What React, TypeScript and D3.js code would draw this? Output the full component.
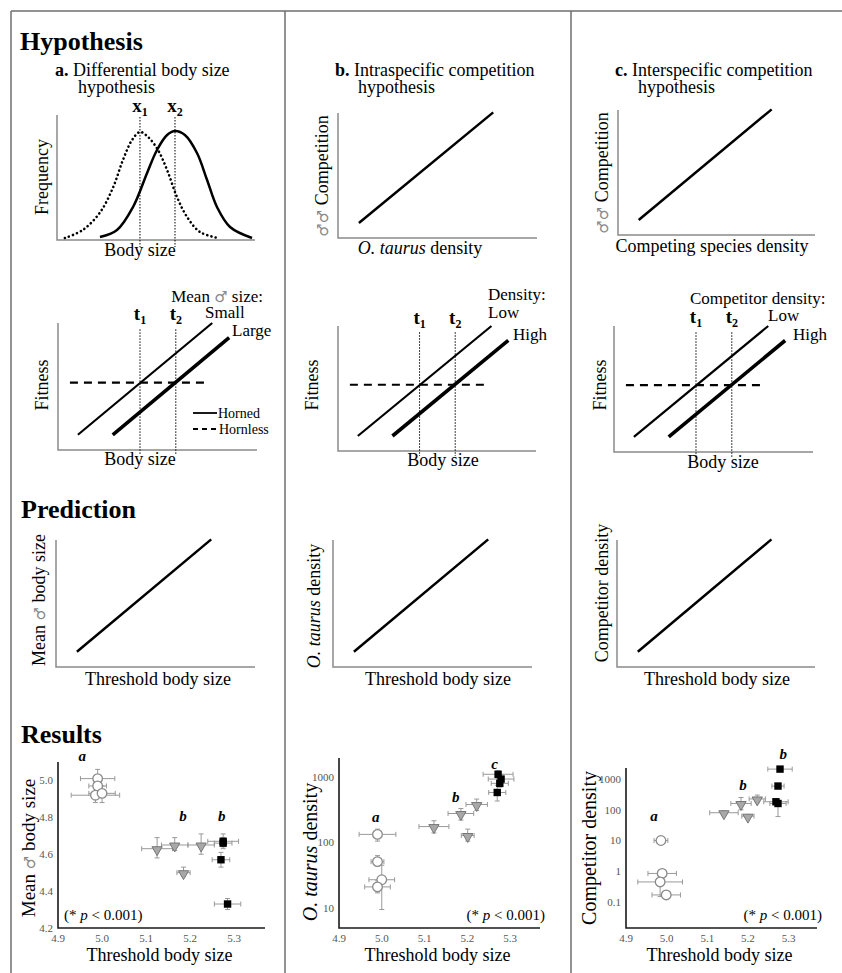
import * as d3 from "d3";
import React from "react";

const FONT = "'Liberation Serif', 'Times New Roman', serif";

// hypothesis sketches live on a 0-10 x 0-10 grid
const freqHornless: [number, number][] = [
  [0.4, 0.16], [1.3, 0.8], [2.17, 2.2], [2.83, 4.2], [3.33, 6.4], [3.79, 8.0],
  [4.19, 8.64], [4.6, 8.24], [5.1, 7.2], [5.56, 5.6], [6.06, 3.44], [6.57, 1.84],
  [7.22, 0.64], [8.13, 0.16],
];
const freqHorned: [number, number][] = [
  [2.17, 0.24], [3.03, 0.8], [3.84, 2.64], [4.55, 5.36], [5.05, 7.2], [5.56, 8.4],
  [5.96, 8.72], [6.46, 8.4], [7.07, 6.96], [7.58, 4.8], [8.08, 2.64], [8.74, 1.04],
  [9.85, 0.16],
];
const peakX = [4.19, 5.96];
const riseLine: [number, number][] = [[1.05, 1.2], [7.8, 10.05]];
const fitSmall: [number, number][] = [[1.0, 1.2], [7.75, 10.0]];
const fitLarge: [number, number][] = [[2.75, 1.2], [8.6, 8.85]];
const hornlessFit: [number, number][] = [[0.6, 5.3], [7.45, 5.3]];
const thresholds = [4.12, 5.92];

// results: [threshold, value, x error, value low, value high]
type Pop = [number, number, number, number, number];
const xTicks = [4.9, 5.0, 5.1, 5.2, 5.3];
const sizeTicks = [4.2, 4.4, 4.6, 4.8, 5.0];
const taurusTicks = [10, 100, 1000];
const compTicks = [0.1, 1, 10, 100, 1000];

const sizeOpen: Pop[] = [
  [4.99, 5.01, 0.039, 4.96, 5.06], [4.99, 4.97, 0.02, 4.95, 4.99],
  [4.985, 4.92, 0.055, 4.88, 4.96], [5.0, 4.93, 0.03, 4.88, 4.97],
];
const sizeGrey: Pop[] = [
  [5.125, 4.63, 0.035, 4.58, 4.69], [5.165, 4.65, 0.03, 4.62, 4.69],
  [5.185, 4.5, 0.015, 4.48, 4.53], [5.225, 4.65, 0.03, 4.6, 4.71],
];
const sizeBlack: Pop[] = [
  [5.275, 4.67, 0.035, 4.64, 4.71], [5.275, 4.66, 0.02, 4.63, 4.69],
  [5.27, 4.57, 0.02, 4.53, 4.61], [5.285, 4.33, 0.03, 4.3, 4.36],
];
const taurusOpen: Pop[] = [
  [4.99, 133, 0.043, 105, 160], [4.99, 51, 0.015, 44, 63],
  [5.0, 27, 0.03, 9.5, 45], [4.99, 21, 0.03, 17, 26],
];
const taurusGrey: Pop[] = [
  [5.122, 175, 0.035, 140, 215], [5.185, 277, 0.03, 220, 330],
  [5.201, 128, 0.015, 105, 160], [5.222, 380, 0.025, 310, 460],
];
const taurusBlack: Pop[] = [
  [5.27, 580, 0.02, 430, 750], [5.272, 1100, 0.035, 950, 1250],
  [5.279, 930, 0.03, 800, 1100], [5.276, 800, 0.02, 700, 950],
];
const compOpen: Pop[] = [
  [4.986, 10, 0.017, 8.3, 12], [4.989, 0.85, 0.035, 0.65, 1.1],
  [4.984, 0.45, 0.055, 0.15, 0.9], [4.999, 0.17, 0.035, 0.13, 0.23],
];
const compGrey: Pop[] = [
  [5.141, 80, 0.035, 70, 92], [5.183, 160, 0.025, 100, 250],
  [5.2, 62, 0.015, 55, 70], [5.223, 225, 0.02, 170, 300],
];
const compBlack: Pop[] = [
  [5.279, 2100, 0.03, 1800, 2400], [5.274, 590, 0.015, 520, 660],
  [5.269, 182, 0.03, 150, 220], [5.274, 160, 0.02, 60, 200],
];

type Scale = { x: d3.ScaleLinear<number, number>; y: d3.ScaleLinear<number, number> };
const box = (l: number, t: number, r: number, b: number): Scale => ({
  x: d3.scaleLinear().domain([0, 10]).range([l, r]),
  y: d3.scaleLinear().domain([0, 10]).range([b, t]),
});

const lineOf = (s: Scale, curve: d3.CurveFactory = d3.curveLinear) =>
  d3.line<[number, number]>().x((d) => s.x(d[0])).y((d) => s.y(d[1])).curve(curve);

const Axes = ({ s, color = "#8a8a8a" }: { s: Scale; color?: string }) => {
  const [l, r] = s.x.range();
  const [b, t] = s.y.range();
  return <path d={`M${l},${t}V${b}H${r}`} fill="none" stroke={color} strokeWidth={1.5} />;
};

const RotText = ({ x, y, size = 18, children }: any) => (
  <text transform={`translate(${x},${y}) rotate(-90)`} textAnchor="middle" fontSize={size}>
    {children}
  </text>
);

const Male = ({ n = 1 }: { n?: number }) => (
  <tspan fill="#888" fontFamily="'DejaVu Sans', sans-serif" fontSize={15}>
    {"♂".repeat(n)}
  </tspan>
);

const Sub = ({ base, sub, x, y }: any) => (
  <text x={x} y={y} textAnchor="middle" fontWeight="bold" fontSize={19}>
    {base}
    <tspan fontSize={12} dy={4}>{sub}</tspan>
  </text>
);

const Title = ({ x, y, tag, text }: any) => (
  <g fontSize={18}>
    <text x={x} y={y}>
      <tspan fontWeight="bold">{tag}</tspan> {text}
    </text>
    <text x={x + 23} y={y + 17}>hypothesis</text>
  </g>
);

const RiseSketch = ({ s }: { s: Scale }) => (
  <g>
    <Axes s={s} />
    <path d={lineOf(s)(riseLine)!} stroke="#000" strokeWidth={2.5} fill="none" />
  </g>
);

const FitnessSketch = ({ s }: { s: Scale }) => {
  const [b] = s.y.range();
  return (
    <g>
      <Axes s={s} />
      {thresholds.map((t, i) => (
        <g key={i}>
          <line x1={s.x(t)} x2={s.x(t)} y1={s.y(9.5)} y2={b + 5} stroke="#000" strokeWidth={1} strokeDasharray="1.5,1.5" />
          <Sub base="t" sub={i + 1} x={s.x(t)} y={s.y(10.2)} />
        </g>
      ))}
      <path d={lineOf(s)(hornlessFit)!} stroke="#000" strokeWidth={2.2} strokeDasharray="8,6" fill="none" />
      <path d={lineOf(s)(fitSmall)!} stroke="#000" strokeWidth={2.2} fill="none" />
      <path d={lineOf(s)(fitLarge)!} stroke="#000" strokeWidth={3.6} fill="none" />
    </g>
  );
};

const tri = d3.symbol().type(d3.symbolTriangle).size(46)()!;

const Markers = ({ data, x, y, kind }: { data: Pop[]; x: any; y: any; kind: string }) => (
  <g>
    {data.map((d, i) => {
      const cx = x(d[0]);
      const cy = y(d[1]);
      const x0 = x(d[0] - d[2]);
      const x1 = x(d[0] + d[2]);
      const y0 = y(d[3]);
      const y1 = y(d[4]);
      return (
        <g key={"e" + i} stroke="#999" strokeWidth={1} fill="none">
          <path d={`M${x0},${cy}H${x1}M${x0},${cy - 2.5}V${cy + 2.5}M${x1},${cy - 2.5}V${cy + 2.5}`} />
          <path d={`M${cx},${y0}V${y1}M${cx - 2.5},${y0}H${cx + 2.5}M${cx - 2.5},${y1}H${cx + 2.5}`} />
        </g>
      );
    })}
    {data.map((d, i) => {
      const cx = x(d[0]);
      const cy = y(d[1]);
      if (kind === "open")
        return <circle key={i} cx={cx} cy={cy} r={4.8} fill="#fff" stroke="#8a8a8a" strokeWidth={1.3} />;
      if (kind === "grey")
        return (
          <path key={i} d={tri} transform={`translate(${cx},${cy + 1}) rotate(180)`} fill="#a8a8a8" stroke="#777" strokeWidth={1} />
        );
      return <rect key={i} x={cx - 3.7} y={cy - 3.7} width={7.4} height={7.4} fill="#000" />;
    })}
  </g>
);

const ResultPanel = ({ l, r, y, yTicks, fmt, sets, letters, pRight, pX, ylabel, ylabelX, ylabelY, ylabelSize }: any) => {
  const x = d3.scaleLinear().domain([4.9, 5.37]).range([l, r]);
  const [b, t] = y.range();
  return (
    <g>
      <path d={`M${l},${t}V${b}H${r}`} fill="none" stroke="#1a1a1a" strokeWidth={1.6} />
      <g fontSize={11} fill="#555">
        {xTicks.map((v) => (
          <text key={v} x={x(v)} y={b + 14} textAnchor="middle">{v.toFixed(1)}</text>
        ))}
        {yTicks.map((v: number) => (
          <text key={v} x={l - 5} y={y(v)} dy="0.35em" textAnchor="end">{fmt(v)}</text>
        ))}
      </g>
      <Markers data={sets[0]} x={x} y={y} kind="open" />
      <Markers data={sets[1]} x={x} y={y} kind="grey" />
      <Markers data={sets[2]} x={x} y={y} kind="black" />
      {letters.map((d: any, i: number) => (
        <text key={i} x={x(d[1])} y={y(d[2])} textAnchor="middle" fontSize={15} fontWeight="bold" fontStyle="italic">
          {d[0]}
        </text>
      ))}
      <text x={pX} y={b - 8} textAnchor={pRight ? "end" : "start"} fontSize={15}>
        (* <tspan fontStyle="italic">p</tspan> {"< 0.001)"}
      </text>
      <RotText x={ylabelX} y={ylabelY} size={ylabelSize}>{ylabel}</RotText>
      <text x={(l + r) / 2 - 2} y={961} textAnchor="middle" fontSize={18}>Threshold body size</text>
    </g>
  );
};

const App = () => {
  const freq = box(57, 115, 255, 240);
  const compB = box(338, 113, 537, 238);
  const compC = box(618, 110, 815, 235);
  const fitA = box(58, 323, 257, 450);
  const fitB = box(338, 326, 536, 451);
  const fitC = box(614, 326, 813, 452);
  const predA = box(56, 540, 255, 667);
  const predB = box(333, 540, 532, 667);
  const predC = box(617, 540, 815, 667);

  const sizeY = d3.scaleLinear().domain([4.2, 5.1]).range([928, 762]);
  const taurusY = d3.scaleLog().domain([4.95, 1950]).range([928, 758]);
  const compY = d3.scaleLog().domain([0.0143, 2280]).range([928, 768]);

  return (
    <svg
      width={842}
      height={973}
      style={{ position: "absolute", left: 0, top: 0, background: "#fff" }}
      fontFamily={FONT}
    >
      {/* frame */}
      <g stroke="#6e6e6e" strokeWidth={1.5}>
        <line x1={11} x2={842} y1={11} y2={11} />
        <line x1={11} x2={11} y1={11} y2={973} />
        <line x1={285} x2={285} y1={11} y2={973} />
        <line x1={571} x2={571} y1={11} y2={973} />
      </g>

      <text x={20} y={50} fontSize={26} fontWeight="bold">Hypothesis</text>
      <text x={21} y={518} fontSize={26} fontWeight="bold">Prediction</text>
      <text x={21} y={743} fontSize={26} fontWeight="bold">Results</text>

      {/* row 1 */}
      <Title x={55} y={76} tag="a." text="Differential body size" />
      <Title x={335} y={76} tag="b." text="Intraspecific competition" />
      <Title x={615} y={76} tag="c." text="Interspecific competition" />

      <Axes s={freq} />
      {peakX.map((p, i) => (
        <g key={i}>
          <line x1={freq.x(p)} x2={freq.x(p)} y1={117} y2={247} stroke="#000" strokeWidth={1} strokeDasharray="1.5,1.5" />
          <Sub base="x" sub={i + 1} x={freq.x(p)} y={112} />
        </g>
      ))}
      <path d={lineOf(freq, d3.curveCatmullRom)(freqHornless)!} fill="none" stroke="#000" strokeWidth={2.6} strokeDasharray="0.1,4.2" strokeLinecap="round" />
      <path d={lineOf(freq, d3.curveCatmullRom)(freqHorned)!} fill="none" stroke="#000" strokeWidth={2.5} />
      <RotText x={48} y={177}>Frequency</RotText>
      <text x={140} y={256} textAnchor="middle" fontSize={18}>Body size</text>

      <RiseSketch s={compB} />
      <RotText x={328} y={176}>
        <Male n={2} /> Competition
      </RotText>
      <text x={420} y={254} textAnchor="middle" fontSize={18}>
        <tspan fontStyle="italic">O. taurus</tspan> density
      </text>

      <RiseSketch s={compC} />
      <RotText x={608} y={173}>
        <Male n={2} /> Competition
      </RotText>
      <text x={712} y={252} textAnchor="middle" fontSize={18}>Competing species density</text>

      {/* row 2 */}
      <FitnessSketch s={fitA} />
      <RotText x={48} y={385}>Fitness</RotText>
      <text x={140} y={465} textAnchor="middle" fontSize={18}>Body size</text>
      <g fontSize={17}>
        <text x={263} y={302} textAnchor="end">
          Mean <Male /> size:
        </text>
        <text x={205} y={318}>Small</text>
        <text x={232} y={336}>Large</text>
      </g>
      <line x1={193} x2={217} y1={413} y2={413} stroke="#000" strokeWidth={1.8} />
      <line x1={193} x2={217} y1={429} y2={429} stroke="#000" strokeWidth={1.8} strokeDasharray="5,4" />
      <g fontSize={14}>
        <text x={218} y={418}>Horned</text>
        <text x={219} y={434}>Hornless</text>
      </g>

      <FitnessSketch s={fitB} />
      <RotText x={318} y={385}>Fitness</RotText>
      <text x={443} y={466} textAnchor="middle" fontSize={18}>Body size</text>
      <g fontSize={17}>
        <text x={488} y={300}>Density:</text>
        <text x={488} y={318}>Low</text>
        <text x={513} y={340}>High</text>
      </g>

      <FitnessSketch s={fitC} />
      <RotText x={606} y={385}>Fitness</RotText>
      <text x={723} y={468} textAnchor="middle" fontSize={18}>Body size</text>
      <g fontSize={17}>
        <text x={690} y={304}>Competitor density:</text>
        <text x={768} y={321}>Low</text>
        <text x={793} y={340}>High</text>
      </g>

      {/* row 3 */}
      <RiseSketch s={predA} />
      <RotText x={45} y={600}>
        Mean <Male /> body size
      </RotText>
      <text x={158} y={685} textAnchor="middle" fontSize={18}>Threshold body size</text>

      <RiseSketch s={predB} />
      <RotText x={320} y={606}>
        <tspan fontStyle="italic">O. taurus</tspan> density
      </RotText>
      <text x={438} y={685} textAnchor="middle" fontSize={18}>Threshold body size</text>

      <RiseSketch s={predC} />
      <RotText x={608} y={593}>Competitor density</RotText>
      <text x={717} y={685} textAnchor="middle" fontSize={18}>Threshold body size</text>

      {/* row 4 */}
      <ResultPanel
        l={58} r={265} y={sizeY} yTicks={sizeTicks} fmt={(v: number) => v.toFixed(1)}
        sets={[sizeOpen, sizeGrey, sizeBlack]}
        letters={[["a", 4.955, 5.105], ["b", 5.184, 4.78], ["b", 5.272, 4.78]]}
        pRight={false} pX={64}
        ylabel={<>Mean <Male /> body size</>} ylabelX={35} ylabelY={848} ylabelSize={19}
      />
      <ResultPanel
        l={339} r={540} y={taurusY} yTicks={taurusTicks} fmt={(v: number) => String(v)}
        sets={[taurusOpen, taurusGrey, taurusBlack]}
        letters={[["a", 4.986, 205], ["b", 5.173, 415], ["c", 5.264, 1325]]}
        pRight={true} pX={545}
        ylabel={<><tspan fontStyle="italic">O. taurus</tspan> density</>} ylabelX={317} ylabelY={852} ylabelSize={20}
      />
      <ResultPanel
        l={626} r={817} y={compY} yTicks={compTicks} fmt={(v: number) => String(v)}
        sets={[compOpen, compGrey, compBlack]}
        letters={[["a", 4.969, 43], ["b", 5.188, 438], ["b", 5.287, 4470]]}
        pRight={true} pX={822}
        ylabel="Competitor density" ylabelX={596} ylabelY={848} ylabelSize={20}
      />
    </svg>
  );
};

export default App;
